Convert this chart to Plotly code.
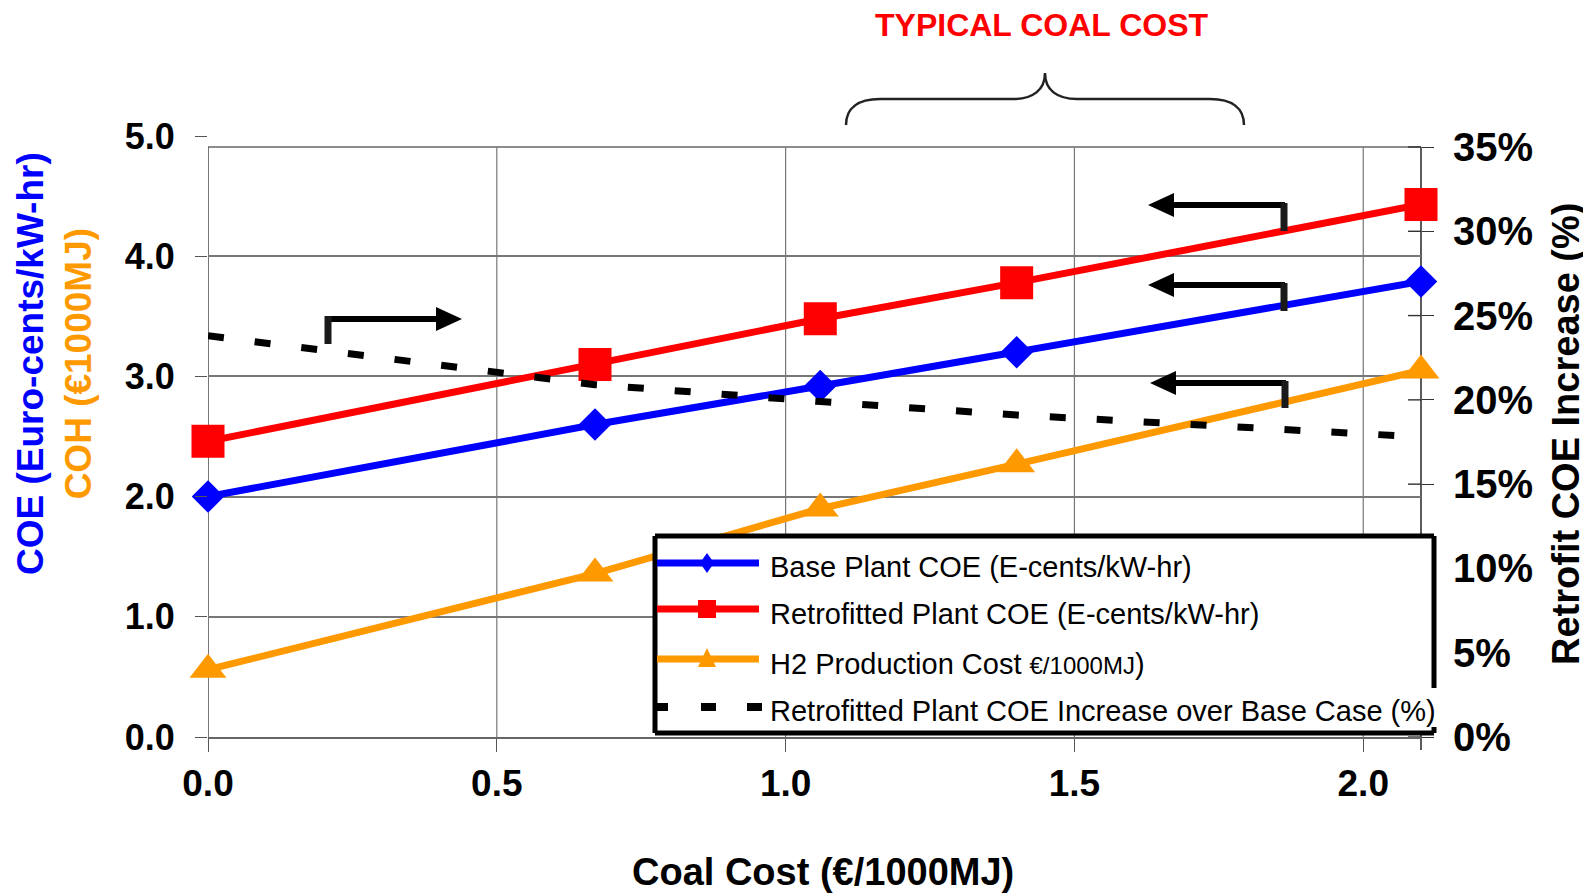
import plotly.graph_objects as go

# ---------------- data ----------------
coal_cost = [0.0, 0.67, 1.06, 1.40, 2.10]          # €/1000MJ
base_coe = [2.00, 2.60, 2.92, 3.20, 3.79]           # E-cents/kW-hr
retro_coe = [2.46, 3.10, 3.48, 3.78, 4.43]          # E-cents/kW-hr
h2_cost = [0.56, 1.36, 1.90, 2.27, 3.05]            # €/1000MJ
coe_increase = [0.238, 0.209, 0.199, 0.191, 0.178]  # fraction

x_ticks = [0.0, 0.5, 1.0, 1.5, 2.0]
x_tick_labels = ["0.0", "0.5", "1.0", "1.5", "2.0"]
y_ticks = [0, 1, 2, 3, 4, 5]
y_tick_labels = ["0.0", "1.0", "2.0", "3.0", "4.0", "5.0"]
y2_ticks = [0.0, 0.05, 0.10, 0.15, 0.20, 0.25, 0.30, 0.35]
y2_tick_labels = ["0%", "5%", "10%", "15%", "20%", "25%", "30%", "35%"]

legend_labels = [
    "Base Plant COE (E-cents/kW-hr)",
    "Retrofitted Plant COE (E-cents/kW-hr)",
    "H2 Production Cost <span style='font-size:24px'>€/1000MJ</span>)",
    "Retrofitted Plant COE Increase over Base Case (%)",
]

BLUE, RED, ORANGE = "#0000FF", "#FF0000", "#FF9900"
FONT = "Liberation Sans, Arial, sans-serif"

# ---------------- layout geometry ----------------
OFF = 8                                  # page body margin of the html output
W, H = 1591 - OFF, 895 - OFF
# plot area in reference pixels
RL, RR, RT, RB = 208, 1421, 136, 737
L, R, T, B = RL - OFF, RR - OFF, RT - OFF, RB - OFF
X_MAX = 2.1
Y2_TOP_PX = 147                          # reference pixel of 35% on right axis
Y2_MAX = 0.35 * (RB - RT) / (RB - Y2_TOP_PX)


def px(x):  # reference pixel -> paper
    return (x - RL) / (RR - RL)


def py(y):
    return (RB - y) / (RB - RT)


def path(points, close=False):
    s = "M " + " L ".join(f"{px(a):.5f},{py(b):.5f}" for a, b in points)
    return s + (" Z" if close else "")


fig = go.Figure()

fig.add_trace(go.Scatter(
    x=coal_cost, y=h2_cost, mode="lines+markers", name="H2 Production Cost",
    line=dict(color=ORANGE, width=7),
    marker=dict(symbol="triangle-up", size=32, color=ORANGE),
    cliponaxis=False, showlegend=False))
fig.add_trace(go.Scatter(
    x=coal_cost, y=base_coe, mode="lines+markers", name="Base Plant COE",
    line=dict(color=BLUE, width=7),
    marker=dict(symbol="diamond", size=25, color=BLUE),
    cliponaxis=False, showlegend=False))
fig.add_trace(go.Scatter(
    x=coal_cost, y=retro_coe, mode="lines+markers", name="Retrofitted Plant COE",
    line=dict(color=RED, width=7),
    marker=dict(symbol="square", size=33, color=RED),
    cliponaxis=False, showlegend=False))
fig.add_trace(go.Scatter(
    x=coal_cost, y=coe_increase, mode="lines", yaxis="y2",
    name="Retrofitted Plant COE Increase over Base Case (%)",
    line=dict(color="black", width=7, dash="16px,31px"),
    cliponaxis=False, showlegend=False))

shapes = []
GRID = "#777777"
for v in x_ticks[1:]:
    shapes.append(dict(type="line", xref="x", yref="y2", x0=v, x1=v, y0=0, y1=0.35,
                       line=dict(color=GRID, width=1.2), layer="below"))
shapes.append(dict(type="line", xref="x", yref="y2", x0=0, x1=0, y0=0, y1=0.35,
                   line=dict(color="#555555", width=1.6), layer="below"))
shapes.append(dict(type="line", xref="paper", yref="y2", x0=0, x1=1, y0=0.35, y1=0.35,
                   line=dict(color="#666666", width=1.6), layer="below"))
shapes.append(dict(type="line", xref="paper", yref="paper", x0=1, x1=1,
                   y0=py(750), y1=0.35 / Y2_MAX,
                   line=dict(color="#333333", width=1.6), layer="below"))
for v in y2_ticks:
    shapes.append(dict(type="line", xref="paper", yref="y2", x0=px(1408), x1=1, y0=v, y1=v,
                       line=dict(color="#333333", width=1.4), layer="below"))

# ---------------- manual legend ----------------
LX0, LX1, LY0, LY1 = 655, 1434, 536, 733
shapes.append(dict(type="rect", xref="paper", yref="paper",
                   x0=px(LX0), x1=px(LX1), y0=py(LY1), y1=py(LY0),
                   fillcolor="white", line=dict(width=0), layer="above"))
for seg in [[(LX0, LY0), (LX1, LY0)], [(LX0, LY0), (LX0, LY1)], [(LX0, LY1), (LX1, LY1)],
            [(LX1, LY0), (LX1, 688)], [(LX1, 727), (LX1, LY1)]]:
    shapes.append(dict(type="path", xref="paper", yref="paper", path=path(seg),
                       line=dict(color="black", width=5), layer="above"))

rows_y = [563, 609, 659, 707]
text_y = [567, 614, 664, 711]
SX0, SX1, SXM = 657, 759, 707
shapes.append(dict(type="path", xref="paper", yref="paper", path=path([(SX0, rows_y[0]), (SX1, rows_y[0])]),
                   line=dict(color=BLUE, width=7), layer="above"))
shapes.append(dict(type="path", xref="paper", yref="paper",
                   path=path([(SXM, rows_y[0] - 10), (SXM + 7, rows_y[0]), (SXM, rows_y[0] + 10), (SXM - 7, rows_y[0])], True),
                   fillcolor=BLUE, line=dict(width=0), layer="above"))
shapes.append(dict(type="path", xref="paper", yref="paper", path=path([(SX0, rows_y[1]), (SX1, rows_y[1])]),
                   line=dict(color=RED, width=7), layer="above"))
shapes.append(dict(type="path", xref="paper", yref="paper",
                   path=path([(SXM - 9, rows_y[1] - 9), (SXM + 9, rows_y[1] - 9), (SXM + 9, rows_y[1] + 9), (SXM - 9, rows_y[1] + 9)], True),
                   fillcolor=RED, line=dict(width=0), layer="above"))
shapes.append(dict(type="path", xref="paper", yref="paper", path=path([(SX0, rows_y[2]), (SX1, rows_y[2])]),
                   line=dict(color=ORANGE, width=7), layer="above"))
shapes.append(dict(type="path", xref="paper", yref="paper",
                   path=path([(SXM, rows_y[2] - 11), (SXM + 9, rows_y[2] + 8), (SXM - 9, rows_y[2] + 8)], True),
                   fillcolor=ORANGE, line=dict(width=0), layer="above"))
for a, b in [(655, 668), (701, 716), (747, 762)]:
    shapes.append(dict(type="path", xref="paper", yref="paper", path=path([(a, rows_y[3]), (b, rows_y[3])]),
                       line=dict(color="black", width=8), layer="above"))


# ---------------- arrows ----------------
def left_arrow(tip_x, y, end_x, drop):
    shapes.append(dict(type="path", xref="paper", yref="paper",
                       path=path([(tip_x + 20, y), (end_x, y)]),
                       line=dict(color="black", width=6), layer="above"))
    shapes.append(dict(type="path", xref="paper", yref="paper",
                       path=path([(end_x - 1, y - 2), (end_x - 1, y + drop)]),
                       line=dict(color="#1a1a1a", width=7), layer="above"))
    shapes.append(dict(type="path", xref="paper", yref="paper",
                       path=path([(tip_x, y), (tip_x + 26, y - 12), (tip_x + 26, y + 12)], True),
                       fillcolor="black", line=dict(width=0), layer="above"))


left_arrow(1148, 205, 1285, 26)
left_arrow(1148, 285, 1285, 26)
left_arrow(1150, 383, 1286, 25)

shapes.append(dict(type="path", xref="paper", yref="paper", path=path([(325, 319), (440, 319)]),
                   line=dict(color="black", width=6), layer="above"))
shapes.append(dict(type="path", xref="paper", yref="paper", path=path([(328, 316), (328, 344)]),
                   line=dict(color="#1a1a1a", width=7), layer="above"))
shapes.append(dict(type="path", xref="paper", yref="paper",
                   path=path([(462, 319), (436, 307), (436, 331)], True),
                   fillcolor="black", line=dict(width=0), layer="above"))

bx0, bx1, bm = 846, 1244, 1045
brace = (f"M {px(bx0):.5f},{py(125):.5f} "
         f"C {px(bx0):.5f},{py(108):.5f} {px(bx0 + 12):.5f},{py(99):.5f} {px(bx0 + 34):.5f},{py(99):.5f} "
         f"L {px(bm - 32):.5f},{py(99):.5f} "
         f"C {px(bm - 12):.5f},{py(99):.5f} {px(bm):.5f},{py(90):.5f} {px(bm):.5f},{py(73):.5f} "
         f"C {px(bm):.5f},{py(90):.5f} {px(bm + 12):.5f},{py(99):.5f} {px(bm + 32):.5f},{py(99):.5f} "
         f"L {px(bx1 - 34):.5f},{py(99):.5f} "
         f"C {px(bx1 - 12):.5f},{py(99):.5f} {px(bx1):.5f},{py(108):.5f} {px(bx1):.5f},{py(125):.5f}")
shapes.append(dict(type="path", xref="paper", yref="paper", path=brace,
                   line=dict(color="#222222", width=2.5), layer="above"))

annotations = []
for lbl, ty in zip(legend_labels, text_y):
    annotations.append(dict(text=lbl, xref="paper", yref="paper", x=px(768), y=py(ty),
                            xanchor="left", yanchor="middle", showarrow=False,
                            font=dict(family=FONT, size=29, color="black")))

annotations.append(dict(text="<b>TYPICAL COAL COST</b>", xref="paper", yref="paper",
                        x=px(1042), y=py(25), xanchor="center", yanchor="middle", showarrow=False,
                        font=dict(family=FONT, size=32, color=RED)))
annotations.append(dict(
    text=f"<b><span style='color:{BLUE}'>COE (Euro-cents/kW-hr)</span><br>"
         f"<span style='color:{ORANGE}'>COH (€1000MJ)</span></b>",
    xref="paper", yref="paper", x=px(54), y=py(364), xanchor="center", yanchor="middle",
    textangle=-90, showarrow=False, font=dict(family=FONT, size=37, color="black")))
annotations.append(dict(
    text="<b>Retrofit COE Increase (%)</b>",
    xref="paper", yref="paper", x=px(1566), y=py(434), xanchor="center", yanchor="middle",
    textangle=-90, showarrow=False, font=dict(family=FONT, size=38, color="black")))
annotations.append(dict(
    text="<b>Coal Cost (€/1000MJ)</b>",
    xref="paper", yref="paper", x=px(823), y=py(872), xanchor="center", yanchor="middle",
    showarrow=False, font=dict(family=FONT, size=38, color="black")))

fig.update_layout(
    width=W, height=H,
    margin=dict(l=L, r=W - R, t=T, b=H - B, autoexpand=False),
    paper_bgcolor="white", plot_bgcolor="white",
    font=dict(family=FONT, color="black"),
    showlegend=False,
    xaxis=dict(range=[0, X_MAX], tickvals=x_ticks, ticktext=x_tick_labels,
               ticks="outside", ticklen=13, tickwidth=1.4, tickcolor="#555555",
               showgrid=False, zeroline=False, showline=True, linecolor="#666666", linewidth=1.6,
               tickfont=dict(family=FONT, size=37, weight="bold", color="black"),
               ticklabelstandoff=0),
    yaxis=dict(range=[0, 5], tickvals=y_ticks, ticktext=y_tick_labels,
               ticks="outside", ticklen=12, tickwidth=1.4, tickcolor="#555555",
               showgrid=True, gridcolor=GRID, gridwidth=1.6, zeroline=False, showline=False,
               tickfont=dict(family=FONT, size=36, weight="bold", color="black"),
               ticklabelstandoff=13),
    yaxis2=dict(range=[0, Y2_MAX], overlaying="y", side="right",
                tickvals=y2_ticks, ticktext=y2_tick_labels,
                ticks="outside", ticklen=12, tickwidth=1.4, tickcolor="#333333",
                showgrid=False, zeroline=False, showline=False,
                tickfont=dict(family=FONT, size=40, weight="bold", color="black"),
                ticklabelstandoff=11),
    shapes=shapes,
    annotations=annotations,
)

fig.write_html("out.html")
